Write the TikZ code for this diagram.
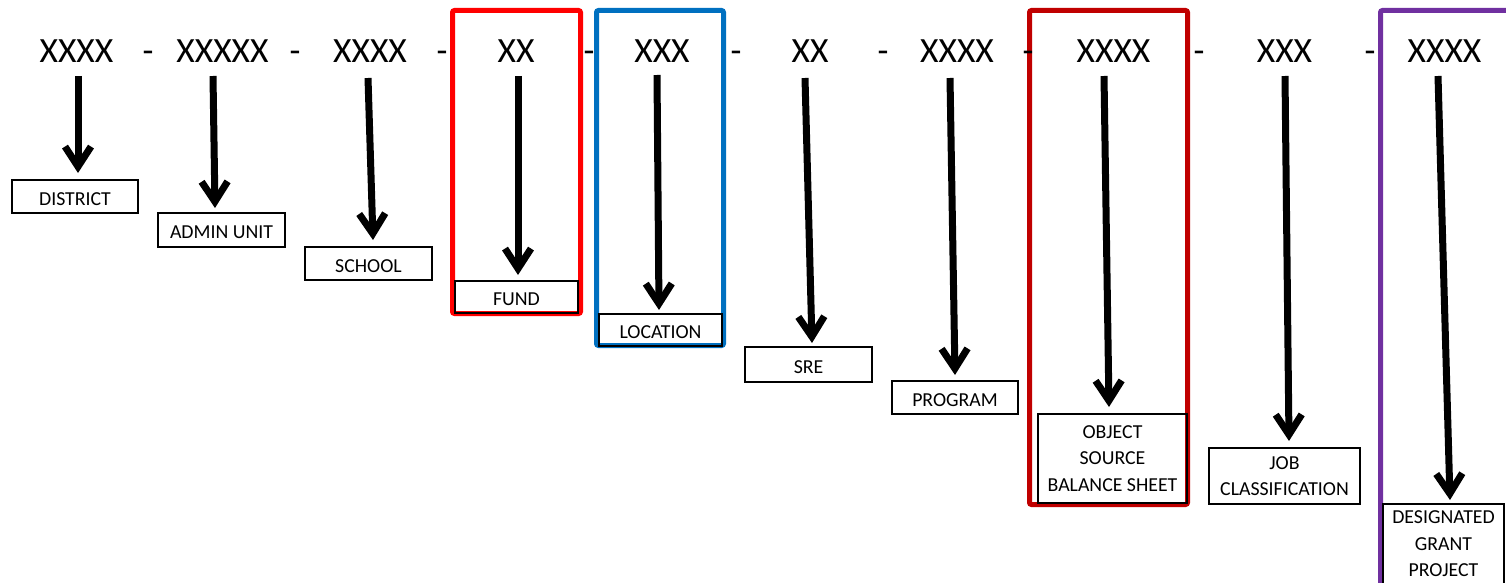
\documentclass[tikz,border=0pt]{standalone}
\usepackage{fontspec}
\setmainfont{Carlito}
\usetikzlibrary{arrows.meta}

\definecolor{fundred}{HTML}{FF0000}
\definecolor{locblue}{HTML}{0070C0}
\definecolor{objred}{HTML}{C00000}
\definecolor{grantpurple}{HTML}{7030A0}

\begin{document}
\begin{tikzpicture}[x=1pt,y=-1pt,
  code/.style={anchor=base, inner sep=0pt, font=\fontsize{35.5}{40}\selectfont},
  tag/.style={draw, line width=1.6pt, inner sep=0pt, align=center,
              font=\fontsize{19.8}{26.5}\selectfont},
  oneline/.style={text height=17.7pt, text depth=0pt},
  frame/.style={line width=5pt, rounded corners=2pt},
  pointer/.style={line width=7pt, -{Straight Barb[length=20pt,width=26pt]}},
]
\useasboundingbox (0,0) rectangle (1506,583);

% coloured frames around the highlighted segments
\draw[frame, fundred]     (452.5,10.5) rectangle (580.5,313.5);
\draw[frame, locblue]     (596.5,10.5) rectangle (723.5,345.5);
\draw[frame, objred]      (1029.5,10.5) rectangle (1187.5,504.5);
\begin{scope}
  \clip (0,0) rectangle (1506,583);
  \draw[frame, grantpurple] (1380.5,10.5) rectangle (1530,620);
\end{scope}

% account code segments
\node[code] (c1)  at (76.5,63)  {XXXX};
\node[code] (c2)  at (222.5,63) {XXXXX};
\node[code] (c3)  at (370,63)   {XXXX};
\node[code] (c4)  at (516,63)   {XX};
\node[code] (c5)  at (662,63)   {XXX};
\node[code] (c6)  at (810,63)   {XX};
\node[code] (c7)  at (957,63)   {XXXX};
\node[code] (c8)  at (1113.5,63) {XXXX};
\node[code] (c9)  at (1284.5,63) {XXX};
\node[code] (c10) at (1444.5,63) {XXXX};

% separators
\foreach \x/\n in {148/1,295/2,442/3,589/4,736/5,883/6,1028/7,1199/8,1370/9}
  \node[code] (d\n) at (\x,63) {-};

% segment names
\node[tag, oneline, minimum width=126pt, minimum height=33pt] (l1) at (75,196.5)   {DISTRICT};
\node[tag, oneline, minimum width=127pt, minimum height=34pt] (l2) at (221.5,230)  {ADMIN UNIT};
\node[tag, oneline, minimum width=127pt, minimum height=33pt] (l3) at (368.5,263.5) {SCHOOL};
\node[tag, oneline, minimum width=123pt, minimum height=32pt] (l4) at (516.5,297)  {FUND};
\node[tag, oneline, minimum width=123pt, minimum height=32pt] (l5) at (660.5,330)  {LOCATION};
\node[tag, oneline, minimum width=127pt, minimum height=35pt] (l6) at (808.5,364.5) {SRE};
\node[tag, oneline, minimum width=126pt, minimum height=33pt] (l7) at (955,397.5)  {PROGRAM};
\node[tag, minimum width=149pt, minimum height=89pt] (l8) at (1112.5,458.5) {OBJECT\\SOURCE\\BALANCE SHEET};
\node[tag, minimum width=151pt, minimum height=56pt] (l9) at (1284.5,476) {JOB\\CLASSIFICATION};
\begin{scope}
  \clip (0,0) rectangle (1506,583);
  \node[tag, minimum width=121pt, minimum height=80pt] (l10) at (1443.5,544) {DESIGNATED\\GRANT\\PROJECT};
\end{scope}

% arrow ends
\coordinate (s1) at (78,76);    \coordinate (t1) at (78,173);
\coordinate (s2) at (213,76);   \coordinate (t2) at (215,208);
\coordinate (s3) at (368,78);   \coordinate (t3) at (373,240);
\coordinate (s4) at (518,76);   \coordinate (t4) at (518,275);
\coordinate (s5) at (657,75);   \coordinate (t5) at (659,310);
\coordinate (s6) at (805,78);   \coordinate (t6) at (812,343);
\coordinate (s7) at (950,78);   \coordinate (t7) at (955,375);
\coordinate (s8) at (1104,76);  \coordinate (t8) at (1109,407);
\coordinate (s9) at (1285,76);  \coordinate (t9) at (1289,441);
\coordinate (s10) at (1438,76); \coordinate (t10) at (1450,500);

\foreach \i in {1,...,10}
  \draw[pointer] (s\i) -- (t\i);
\end{tikzpicture}
\end{document}
